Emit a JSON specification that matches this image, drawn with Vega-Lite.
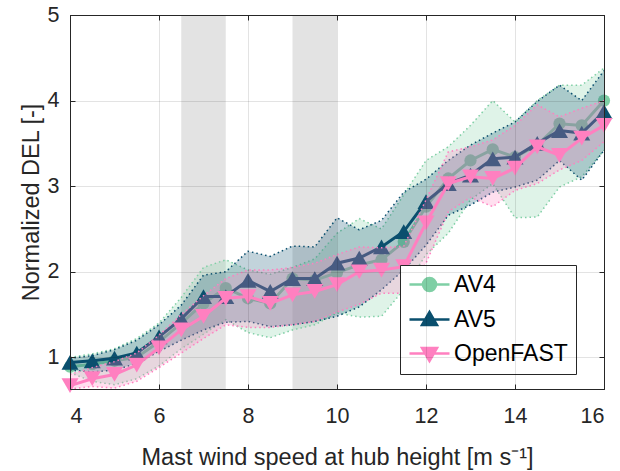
{
  "$schema": "https://vega.github.io/schema/vega-lite/v6.json",
  "width": 534,
  "height": 374,
  "autosize": "none",
  "padding": {"left": 70, "top": 15, "right": 16, "bottom": 82},
  "background": "white",
  "config": {
    "view": {"stroke": "#262626", "strokeWidth": 1},
    "font": "Liberation Sans",
    "axis": {"labelFont": "Liberation Sans", "titleFont": "Liberation Sans", "labelColor": "#262626", "titleColor": "#262626", "domainColor": "#262626", "tickColor": "#262626", "titleFontWeight": "normal"}
  },
  "datasets": {
    "bands": [{"a": 6.5, "b": 7.5}, {"a": 9, "b": 10}],
    "d": [
      {"s": "AV4", "x": 4, "m": 0.89, "lo": 0.82, "hi": 1.0},
      {"s": "AV4", "x": 4.5, "m": 0.92, "lo": 0.72, "hi": 1.04},
      {"s": "AV4", "x": 5, "m": 0.96, "lo": 0.68, "hi": 1.1},
      {"s": "AV4", "x": 5.5, "m": 1.0, "lo": 0.75, "hi": 1.22},
      {"s": "AV4", "x": 6, "m": 1.18, "lo": 0.9, "hi": 1.4},
      {"s": "AV4", "x": 6.5, "m": 1.4, "lo": 1.1, "hi": 1.7},
      {"s": "AV4", "x": 7, "m": 1.63, "lo": 1.27, "hi": 2.05},
      {"s": "AV4", "x": 7.5, "m": 1.81, "lo": 1.44, "hi": 2.14},
      {"s": "AV4", "x": 8, "m": 1.69, "lo": 1.29, "hi": 2.02},
      {"s": "AV4", "x": 8.5, "m": 1.63, "lo": 1.23, "hi": 1.97},
      {"s": "AV4", "x": 9, "m": 1.92, "lo": 1.32, "hi": 2.05},
      {"s": "AV4", "x": 9.5, "m": 1.9, "lo": 1.38, "hi": 2.15},
      {"s": "AV4", "x": 10, "m": 1.99, "lo": 1.52, "hi": 2.45},
      {"s": "AV4", "x": 10.5, "m": 2.08, "lo": 1.47, "hi": 2.62},
      {"s": "AV4", "x": 11, "m": 2.14, "lo": 1.48, "hi": 2.5},
      {"s": "AV4", "x": 11.5, "m": 2.35, "lo": 1.79, "hi": 2.9},
      {"s": "AV4", "x": 12, "m": 2.76, "lo": 2.2, "hi": 3.3},
      {"s": "AV4", "x": 12.5, "m": 3.09, "lo": 2.45, "hi": 3.46},
      {"s": "AV4", "x": 13, "m": 3.3, "lo": 2.84, "hi": 3.71},
      {"s": "AV4", "x": 13.5, "m": 3.43, "lo": 3.03, "hi": 4.0},
      {"s": "AV4", "x": 14, "m": 3.34, "lo": 2.63, "hi": 3.75},
      {"s": "AV4", "x": 14.5, "m": 3.48, "lo": 2.64, "hi": 4.0},
      {"s": "AV4", "x": 15, "m": 3.73, "lo": 2.99, "hi": 4.18},
      {"s": "AV4", "x": 15.5, "m": 3.71, "lo": 3.11, "hi": 4.18},
      {"s": "AV4", "x": 16, "m": 4.0, "lo": 3.42, "hi": 4.38},
      {"s": "AV5", "x": 4, "m": 0.94, "lo": 0.85, "hi": 0.99},
      {"s": "AV5", "x": 4.5, "m": 0.96, "lo": 0.83, "hi": 1.02},
      {"s": "AV5", "x": 5, "m": 0.99, "lo": 0.85, "hi": 1.09},
      {"s": "AV5", "x": 5.5, "m": 1.05, "lo": 0.93, "hi": 1.2},
      {"s": "AV5", "x": 6, "m": 1.24, "lo": 1.07, "hi": 1.38},
      {"s": "AV5", "x": 6.5, "m": 1.45, "lo": 1.2, "hi": 1.61},
      {"s": "AV5", "x": 7, "m": 1.71, "lo": 1.32, "hi": 1.96},
      {"s": "AV5", "x": 7.5, "m": 1.71, "lo": 1.41, "hi": 2.0},
      {"s": "AV5", "x": 8, "m": 1.9, "lo": 1.42, "hi": 2.24},
      {"s": "AV5", "x": 8.5, "m": 1.77, "lo": 1.36, "hi": 2.18},
      {"s": "AV5", "x": 9, "m": 1.92, "lo": 1.38, "hi": 2.3},
      {"s": "AV5", "x": 9.5, "m": 1.92, "lo": 1.42, "hi": 2.29},
      {"s": "AV5", "x": 10, "m": 2.1, "lo": 1.48, "hi": 2.63},
      {"s": "AV5", "x": 10.5, "m": 2.16, "lo": 1.59, "hi": 2.49},
      {"s": "AV5", "x": 11, "m": 2.29, "lo": 1.79, "hi": 2.6},
      {"s": "AV5", "x": 11.5, "m": 2.47, "lo": 2.02, "hi": 2.93},
      {"s": "AV5", "x": 12, "m": 2.82, "lo": 2.31, "hi": 3.08},
      {"s": "AV5", "x": 12.5, "m": 3.03, "lo": 2.66, "hi": 3.3},
      {"s": "AV5", "x": 13, "m": 3.13, "lo": 2.78, "hi": 3.48},
      {"s": "AV5", "x": 13.5, "m": 3.32, "lo": 2.93, "hi": 3.62},
      {"s": "AV5", "x": 14, "m": 3.34, "lo": 2.99, "hi": 3.75},
      {"s": "AV5", "x": 14.5, "m": 3.5, "lo": 3.07, "hi": 3.99},
      {"s": "AV5", "x": 15, "m": 3.65, "lo": 3.3, "hi": 4.18},
      {"s": "AV5", "x": 15.5, "m": 3.62, "lo": 3.07, "hi": 4.0},
      {"s": "AV5", "x": 16, "m": 3.87, "lo": 3.42, "hi": 4.35},
      {"s": "OpenFAST", "x": 4, "m": 0.67, "lo": 0.63, "hi": 0.8},
      {"s": "OpenFAST", "x": 4.5, "m": 0.75, "lo": 0.66, "hi": 0.88},
      {"s": "OpenFAST", "x": 5, "m": 0.8, "lo": 0.64, "hi": 0.95},
      {"s": "OpenFAST", "x": 5.5, "m": 0.91, "lo": 0.72, "hi": 1.05},
      {"s": "OpenFAST", "x": 6, "m": 1.11, "lo": 0.88, "hi": 1.26},
      {"s": "OpenFAST", "x": 6.5, "m": 1.32, "lo": 1.05, "hi": 1.5},
      {"s": "OpenFAST", "x": 7, "m": 1.48, "lo": 1.22, "hi": 1.72},
      {"s": "OpenFAST", "x": 7.5, "m": 1.69, "lo": 1.38, "hi": 1.92},
      {"s": "OpenFAST", "x": 8, "m": 1.71, "lo": 1.35, "hi": 2.02},
      {"s": "OpenFAST", "x": 8.5, "m": 1.63, "lo": 1.35, "hi": 2.02},
      {"s": "OpenFAST", "x": 9, "m": 1.73, "lo": 1.38, "hi": 2.05},
      {"s": "OpenFAST", "x": 9.5, "m": 1.77, "lo": 1.42, "hi": 2.1},
      {"s": "OpenFAST", "x": 10, "m": 1.85, "lo": 1.53, "hi": 2.2},
      {"s": "OpenFAST", "x": 10.5, "m": 2.0, "lo": 1.62, "hi": 2.29},
      {"s": "OpenFAST", "x": 11, "m": 2.02, "lo": 1.75, "hi": 2.28},
      {"s": "OpenFAST", "x": 11.5, "m": 2.06, "lo": 1.75, "hi": 2.3},
      {"s": "OpenFAST", "x": 12, "m": 2.57, "lo": 2.1, "hi": 2.84},
      {"s": "OpenFAST", "x": 12.5, "m": 3.03, "lo": 2.7, "hi": 3.4},
      {"s": "OpenFAST", "x": 13, "m": 3.11, "lo": 2.87, "hi": 3.46},
      {"s": "OpenFAST", "x": 13.5, "m": 3.09, "lo": 2.76, "hi": 3.54},
      {"s": "OpenFAST", "x": 14, "m": 3.21, "lo": 2.95, "hi": 3.71},
      {"s": "OpenFAST", "x": 14.5, "m": 3.46, "lo": 3.03, "hi": 3.95},
      {"s": "OpenFAST", "x": 15, "m": 3.36, "lo": 3.19, "hi": 3.81},
      {"s": "OpenFAST", "x": 15.5, "m": 3.56, "lo": 3.3, "hi": 3.91},
      {"s": "OpenFAST", "x": 16, "m": 3.71, "lo": 3.52, "hi": 4.0}
    ]
  },
  "layer": [
    {
      "data": {"name": "bands"},
      "mark": {"type": "rect", "color": "#e3e3e3"},
      "encoding": {
        "x": {"field": "a", "type": "quantitative", "scale": {"domain": [4, 16], "nice": false, "zero": false},
              "axis": {"orient": "top", "labels": false, "title": null, "grid": false, "values": [4, 6, 8, 10, 12, 14, 16], "tickSize": -5, "domain": true, "zindex": 1}},
        "x2": {"field": "b"}
      }
    },
    {
      "data": {"name": "d"},
      "transform": [{"filter": "datum.s === 'AV4'"}],
      "mark": {"type": "area", "color": "#7fcfa5", "opacity": 0.25},
      "encoding": {
        "x": {"field": "x", "type": "quantitative",
              "axis": {"orient": "bottom", "values": [4, 6, 8, 10, 12, 14, 16], "tickSize": -5, "labelFontSize": 21.5, "labelPadding": 21, "grid": true, "gridColor": "#000", "gridOpacity": 0.11, "title": "Mast wind speed at hub height [m s\u207b\u00b9]", "titleFontSize": 23.5, "titlePadding": 19, "zindex": 1}},
        "y": {"field": "lo", "type": "quantitative", "scale": {"domain": [0.63, 5], "nice": false, "zero": false},
              "axis": {"orient": "left", "values": [1, 2, 3, 4, 5], "tickSize": -5, "labelFontSize": 21.5, "labelPadding": 16, "grid": true, "gridColor": "#000", "gridOpacity": 0.11, "title": "Normalized DEL [-]", "titleFontSize": 23.5, "titlePadding": 4, "zindex": 1}},
        "y2": {"field": "hi"}
      }
    },
    {
      "data": {"name": "d"},
      "transform": [{"filter": "datum.s === 'AV4'"}],
      "mark": {"type": "line", "color": "#7fcfa5", "strokeWidth": 1.5, "strokeDash": [1.5, 3]},
      "encoding": {"x": {"field": "x", "type": "quantitative", "axis": null}, "y": {"field": "hi", "type": "quantitative", "axis": null}}
    },
    {
      "data": {"name": "d"},
      "transform": [{"filter": "datum.s === 'AV4'"}],
      "mark": {"type": "line", "color": "#7fcfa5", "strokeWidth": 1.5, "strokeDash": [1.5, 3]},
      "encoding": {"x": {"field": "x", "type": "quantitative", "axis": null}, "y": {"field": "lo", "type": "quantitative", "axis": null}}
    },
    {
      "data": {"name": "d"},
      "transform": [{"filter": "datum.s === 'AV4'"}],
      "mark": {"type": "line", "strokeWidth": 3, "point": {"shape": "circle", "size": 150, "filled": true, "opacity": 1}},
      "encoding": {
        "x": {"field": "x", "type": "quantitative", "axis": null},
        "y": {"field": "m", "type": "quantitative", "axis": {"orient": "right", "labels": false, "title": null, "grid": false, "values": [1, 2, 3, 4, 5], "tickSize": -5, "domain": true, "zindex": 1}},
        "color": {"field": "s", "type": "nominal", "scale": {"domain": ["AV4", "AV5", "OpenFAST"], "range": ["#7fcfa5", "#0a4f6e", "#ff80c0"]},
          "legend": {
            "orient": "none", "legendX": 330, "legendY": 250, "title": null,
            "fillColor": "white", "strokeColor": "#262626", "padding": 8, "cornerRadius": 0,
            "symbolSize": 400, "labelOffset": 23, "labelFontSize": 23, "labelFont": "Liberation Sans", "labelColor": "black",
            "rowPadding": 10, "symbolStrokeWidth": 2.5,
            "encode": {"symbols": {"update": {
              "shape": {"signal": "datum.value === 'AV4' ? 'M-1,0L3,0M0.35,0A0.65,0.65,0,1,1,1.65,0A0.65,0.65,0,1,1,0.35,0Z' : (datum.value === 'AV5' ? 'M-1,0L3,0M1,-0.75L1.75,0.55L0.25,0.55Z' : 'M-1,0L3,0M0.25,-0.55L1.75,-0.55L1,0.75Z')"},
              "fill": {"signal": "datum.value === 'AV4' ? '#7fcfa5' : (datum.value === 'AV5' ? '#0a4f6e' : '#ff80c0')"},
              "stroke": {"signal": "datum.value === 'AV4' ? '#7fcfa5' : (datum.value === 'AV5' ? '#0a4f6e' : '#ff80c0')"},
              "strokeWidth": {"value": 2.5},
              "opacity": {"value": 1}
            }}}
          }}
      }
    },
    {
      "data": {"name": "d"},
      "transform": [{"filter": "datum.s === 'AV5'"}],
      "mark": {"type": "area", "color": "#0a4f6e", "opacity": 0.25},
      "encoding": {"x": {"field": "x", "type": "quantitative", "axis": null}, "y": {"field": "lo", "type": "quantitative", "axis": null}, "y2": {"field": "hi"}}
    },
    {
      "data": {"name": "d"},
      "transform": [{"filter": "datum.s === 'AV5'"}],
      "mark": {"type": "line", "color": "#0a4f6e", "strokeWidth": 1.5, "strokeDash": [1.5, 3]},
      "encoding": {"x": {"field": "x", "type": "quantitative", "axis": null}, "y": {"field": "hi", "type": "quantitative", "axis": null}}
    },
    {
      "data": {"name": "d"},
      "transform": [{"filter": "datum.s === 'AV5'"}],
      "mark": {"type": "line", "color": "#0a4f6e", "strokeWidth": 1.5, "strokeDash": [1.5, 3]},
      "encoding": {"x": {"field": "x", "type": "quantitative", "axis": null}, "y": {"field": "lo", "type": "quantitative", "axis": null}}
    },
    {
      "data": {"name": "d"},
      "transform": [{"filter": "datum.s === 'AV5'"}],
      "mark": {"type": "line", "strokeWidth": 3, "point": {"shape": "triangle-up", "size": 290, "filled": true, "opacity": 1}},
      "encoding": {
        "x": {"field": "x", "type": "quantitative", "axis": null},
        "y": {"field": "m", "type": "quantitative", "axis": null},
        "color": {"field": "s", "type": "nominal"}
      }
    },
    {
      "data": {"name": "d"},
      "transform": [{"filter": "datum.s === 'OpenFAST'"}],
      "mark": {"type": "area", "color": "#ff80c0", "opacity": 0.25},
      "encoding": {"x": {"field": "x", "type": "quantitative", "axis": null}, "y": {"field": "lo", "type": "quantitative", "axis": null}, "y2": {"field": "hi"}}
    },
    {
      "data": {"name": "d"},
      "transform": [{"filter": "datum.s === 'OpenFAST'"}],
      "mark": {"type": "line", "color": "#ff80c0", "strokeWidth": 1.5, "strokeDash": [1.5, 3]},
      "encoding": {"x": {"field": "x", "type": "quantitative", "axis": null}, "y": {"field": "hi", "type": "quantitative", "axis": null}}
    },
    {
      "data": {"name": "d"},
      "transform": [{"filter": "datum.s === 'OpenFAST'"}],
      "mark": {"type": "line", "color": "#ff80c0", "strokeWidth": 1.5, "strokeDash": [1.5, 3]},
      "encoding": {"x": {"field": "x", "type": "quantitative", "axis": null}, "y": {"field": "lo", "type": "quantitative", "axis": null}}
    },
    {
      "data": {"name": "d"},
      "transform": [{"filter": "datum.s === 'OpenFAST'"}],
      "mark": {"type": "line", "strokeWidth": 3, "point": {"shape": "triangle-down", "size": 290, "filled": true, "opacity": 1}},
      "encoding": {
        "x": {"field": "x", "type": "quantitative", "axis": null},
        "y": {"field": "m", "type": "quantitative", "axis": null},
        "color": {"field": "s", "type": "nominal"}
      }
    }
  ]
}
